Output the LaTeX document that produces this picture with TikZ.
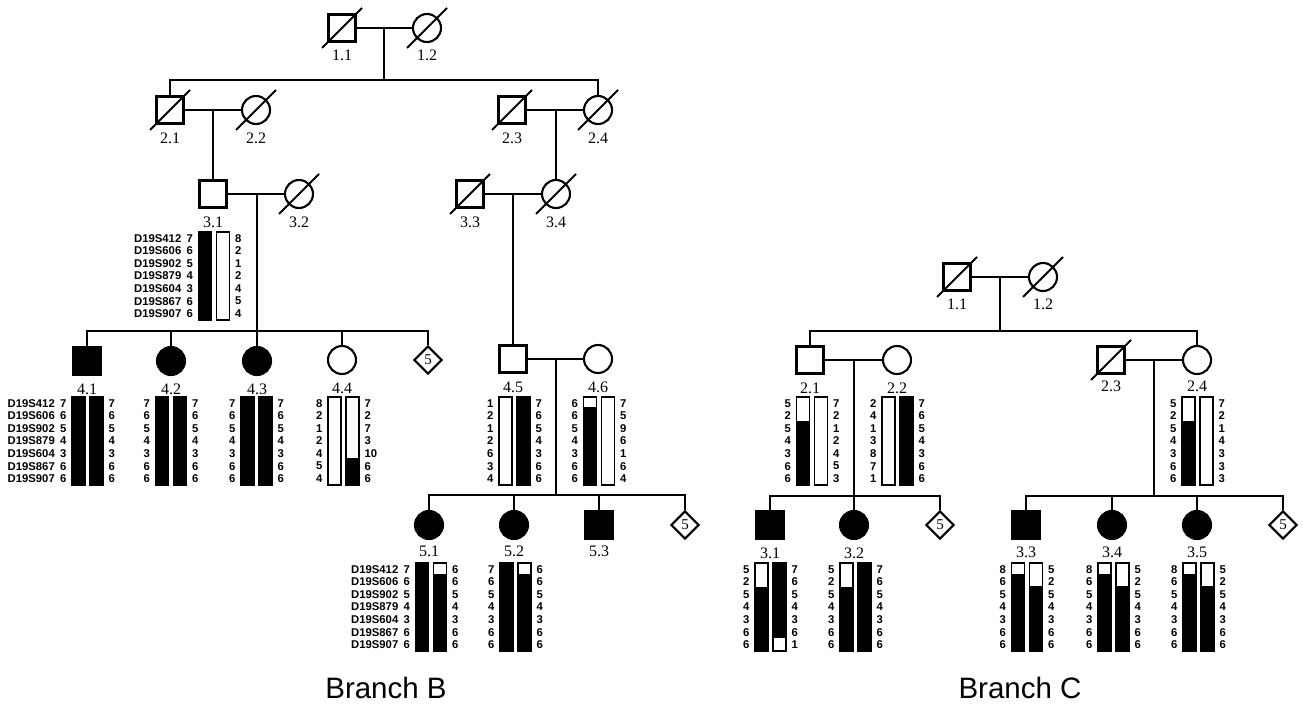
\documentclass[tikz,border=0pt]{standalone}
\usepackage{fontspec}
\setmainfont{Liberation Serif}
\newfontfamily\numfont{Liberation Sans}
\usetikzlibrary{shapes.geometric,calc}
\tikzset{
  ln/.style={line width=1.8pt},
  sym/.style={draw, line width=2.1pt, inner sep=0pt},
  male/.style={sym, rectangle, minimum size=27pt},
  female/.style={sym, circle, minimum size=28pt},
  aff/.style={fill=black},
  dia/.style={sym, diamond, minimum width=28pt, minimum height=28pt, font=\fontsize{15}{15}\selectfont},
  lab/.style={inner sep=0pt, font=\fontsize{16}{16}\selectfont},
  num/.style={inner sep=0pt, font=\numfont\bfseries\fontsize{11.3}{11.3}\selectfont},
  barl/.style={line width=1.4pt},
  slash/.style={line width=2pt},
  brlab/.style={inner sep=0pt, font=\numfont\fontsize{29.5}{29.5}\selectfont}
}
% haplotype: #1 name, #2 cx, #3 top, #4 left values, #5 right values, #6 #7 left black rows, #8 #9 right black rows
\newcommand\hap[9]{%
  \fill ({#2-15.5},{#3+#6*12.57}) rectangle ({#2-2.5},{#3+#7*12.57});
  \fill ({#2+2.5},{#3+#8*12.57}) rectangle ({#2+15.5},{#3+#9*12.57});
  \draw[barl] ({#2-15.5},#3) rectangle ({#2-2.5},{#3+88});
  \draw[barl] ({#2+2.5},#3) rectangle ({#2+15.5},{#3+88});
  \foreach \v [count=\i from 0] in {#4} \node[num,anchor=east] (#1-l\i) at ({#2-21},{#3+6.3+\i*12.57}) {\v};
  \foreach \v [count=\i from 0] in {#5} \node[num,anchor=west] (#1-r\i) at ({#2+21},{#3+6.3+\i*12.57}) {\v};
}
\newcommand\hmk[3]{%
  \foreach \m [count=\i from 0] in {D19S412,D19S606,D19S902,D19S879,D19S604,D19S867,D19S907}
    \node[num,anchor=east] (#1-m\i) at ({#2},{#3+6.3+\i*12.57}) {\m};
}
\newcommand\dead[1]{\draw[slash] ($(#1)+(-20,20)$) -- ($(#1)+(20,-20)$);}
\begin{document}
\begin{tikzpicture}[x=1pt,y=-1pt]
\useasboundingbox (0,0) rectangle (1303,709);
% ================= Branch B =================
\node[male] (B11) at (342,28) {};
\node[female] (B12) at (427,28) {};
\node[male] (B21) at (170,110) {};
\node[female] (B22) at (256,110) {};
\node[male] (B23) at (512,110) {};
\node[female] (B24) at (598,110) {};
\node[male] (B31) at (213,194) {};
\node[female] (B32) at (299,194) {};
\node[male] (B33) at (470,194) {};
\node[female] (B34) at (556,194) {};
\node[male,aff] (B41) at (87,361) {};
\node[female,aff] (B42) at (171,361) {};
\node[female,aff] (B43) at (257,361) {};
\node[female] (B44) at (342,360) {};
\node[dia] (B4d) at (428,360) {5};
\node[male] (B45) at (513,359) {};
\node[female] (B46) at (598,359) {};
\node[female,aff] (B51) at (429,525) {};
\node[female,aff] (B52) at (514,525) {};
\node[male,aff] (B53) at (599,525) {};
\node[dia] (B5d) at (685,525) {5};
\foreach \n in {B11,B12,B21,B22,B23,B24,B32,B33,B34} {\dead{\n}}
% labels
\node[lab] (B11l) at (342,55) {1.1};
\node[lab] (B12l) at (427,55) {1.2};
\node[lab] (B21l) at (170,138) {2.1};
\node[lab] (B22l) at (256,138) {2.2};
\node[lab] (B23l) at (512,138) {2.3};
\node[lab] (B24l) at (598,138) {2.4};
\node[lab] (B31l) at (213,222) {3.1};
\node[lab] (B32l) at (299,222) {3.2};
\node[lab] (B33l) at (470,222) {3.3};
\node[lab] (B34l) at (556,222) {3.4};
\node[lab] (B41l) at (87,389) {4.1};
\node[lab] (B42l) at (171,389) {4.2};
\node[lab] (B43l) at (257,389) {4.3};
\node[lab] (B44l) at (342,388) {4.4};
\node[lab] (B45l) at (513,387) {4.5};
\node[lab] (B46l) at (598,387) {4.6};
\node[lab] (B51l) at (429,551) {5.1};
\node[lab] (B52l) at (514,551) {5.2};
\node[lab] (B53l) at (599,551) {5.3};
% connectors
\coordinate (B1m) at (384,28); \coordinate (B1s) at (384,80);
\draw[ln] (B11.east) -- (B12.west);
\draw[ln] (B1m) -- (B1s);
\draw[ln] (B21.north) |- (B1s) -| (B24.north);
\coordinate (B2m) at (213,110); \coordinate (B2n) at (556,110);
\draw[ln] (B21.east) -- (B22.west);
\draw[ln] (B23.east) -- (B24.west);
\draw[ln] (B2m) -- (B31.north);
\draw[ln] (B2n) -- (B34.north);
\coordinate (B3m) at (257,194); \coordinate (B3s) at (257,331); \coordinate (B3n) at (513,194);
\draw[ln] (B31.east) -- (B32.west);
\draw[ln] (B33.east) -- (B34.west);
\draw[ln] (B3m) -- (B3s);
\draw[ln] (B41.north) |- (B3s) -| (B4d.north);
\foreach \n in {B42,B43,B44} {\draw[ln] (\n.north) -- (\n.north |- B3s);}
\draw[ln] (B3n) -- (B45.north);
\coordinate (B4m) at (556,359); \coordinate (B4s) at (556,495);
\draw[ln] (B45.east) -- (B46.west);
\draw[ln] (B4m) -- (B4s);
\draw[ln] (B51.north) |- (B4s) -| (B5d.north);
\foreach \n in {B52,B53} {\draw[ln] (\n.north) -- (\n.north |- B4s);}
% haplotypes
\hmk{h31}{181.5}{232}
\hap{h31}{214}{232}{7,6,5,4,3,6,6}{8,2,1,2,4,5,4}{0}{7}{0}{0}
\hmk{h41}{55}{397}
\hap{h41}{87.5}{397}{7,6,5,4,3,6,6}{7,6,5,4,3,6,6}{0}{7}{0}{7}
\hap{h42}{171}{397}{7,6,5,4,3,6,6}{7,6,5,4,3,6,6}{0}{7}{0}{7}
\hap{h43}{256.5}{397}{7,6,5,4,3,6,6}{7,6,5,4,3,6,6}{0}{7}{0}{7}
\hap{h44}{343.5}{397}{8,2,1,2,4,5,4}{7,2,7,3,10,6,6}{0}{0}{4.85}{7}
\hap{h45}{514.5}{397}{1,2,1,2,6,3,4}{7,6,5,4,3,6,6}{0}{0}{0}{7}
\hap{h46}{599}{397}{6,6,5,4,3,6,6}{7,5,9,6,1,6,4}{0.8}{7}{0}{0}
\hmk{h51}{398.5}{563}
\hap{h51}{431}{563}{7,6,5,4,3,6,6}{6,6,5,4,3,6,6}{0}{7}{0.9}{7}
\hap{h52}{515.5}{563}{7,6,5,4,3,6,6}{6,6,5,4,3,6,6}{0}{7}{0.9}{7}
% ================= Branch C =================
\node[male] (C11) at (957,277) {};
\node[female] (C12) at (1043,277) {};
\node[male] (C21) at (810,360) {};
\node[female] (C22) at (897,360) {};
\node[male] (C23) at (1111,360) {};
\node[female] (C24) at (1197,360) {};
\node[male,aff] (C31) at (770,525) {};
\node[female,aff] (C32) at (854,525) {};
\node[dia] (C3d) at (940,525) {5};
\node[male,aff] (C33) at (1026,525) {};
\node[female,aff] (C34) at (1112,525) {};
\node[female,aff] (C35) at (1197,525) {};
\node[dia] (C3e) at (1283,525) {5};
\foreach \n in {C11,C12,C23} {\dead{\n}}
\node[lab] (C11l) at (957,304) {1.1};
\node[lab] (C12l) at (1043,304) {1.2};
\node[lab] (C21l) at (810,388) {2.1};
\node[lab] (C22l) at (897,388) {2.2};
\node[lab] (C23l) at (1111,386) {2.3};
\node[lab] (C24l) at (1197,386) {2.4};
\node[lab] (C31l) at (770,553) {3.1};
\node[lab] (C32l) at (854,553) {3.2};
\node[lab] (C33l) at (1026,552) {3.3};
\node[lab] (C34l) at (1112,552) {3.4};
\node[lab] (C35l) at (1197,552) {3.5};
\coordinate (C1m) at (1000,277); \coordinate (C1s) at (1000,331);
\draw[ln] (C11.east) -- (C12.west);
\draw[ln] (C1m) -- (C1s);
\draw[ln] (C21.north) |- (C1s) -| (C24.north);
\coordinate (C2m) at (854,360); \coordinate (C2s) at (854,496);
\coordinate (C2n) at (1154,360); \coordinate (C2t) at (1154,496);
\draw[ln] (C21.east) -- (C22.west);
\draw[ln] (C23.east) -- (C24.west);
\draw[ln] (C2m) -- (C2s);
\draw[ln] (C2n) -- (C2t);
\draw[ln] (C31.north) |- (C2s) -| (C3d.north);
\draw[ln] (C32.north) -- (C2s);
\draw[ln] (C33.north) |- (C2t) -| (C3e.north);
\foreach \n in {C34,C35} {\draw[ln] (\n.north) -- (\n.north |- C2t);}
\hap{c21}{812}{397}{5,2,5,4,3,6,6}{7,2,1,2,4,5,3}{1.9}{7}{0}{0}
\hap{c22}{897.5}{397}{2,4,1,3,8,7,1}{7,6,5,4,3,6,6}{0}{0}{0}{7}
\hap{c24}{1197.5}{397}{5,2,5,4,3,6,6}{7,2,1,4,3,3,3}{1.9}{7}{0}{0}
\hap{c31}{770.5}{563}{5,2,5,4,3,6,6}{7,6,5,4,3,6,1}{1.9}{7}{0}{6}
\hap{c32}{855.5}{563}{5,2,5,4,3,6,6}{7,6,5,4,3,6,6}{1.9}{7}{0}{7}
\hap{c33}{1027}{563}{8,6,5,4,3,6,6}{5,2,5,4,3,6,6}{0.9}{7}{1.8}{7}
\hap{c34}{1113.5}{563}{8,6,5,4,3,6,6}{5,2,5,4,3,6,6}{0.9}{7}{1.8}{7}
\hap{c35}{1198.5}{563}{8,6,5,4,3,6,6}{5,2,5,4,3,6,6}{0.9}{7}{1.8}{7}
% branch labels
\node[brlab] (BrB) at (386,688) {Branch B};
\node[brlab] (BrC) at (1020,688) {Branch C};
\end{tikzpicture}
\end{document}
